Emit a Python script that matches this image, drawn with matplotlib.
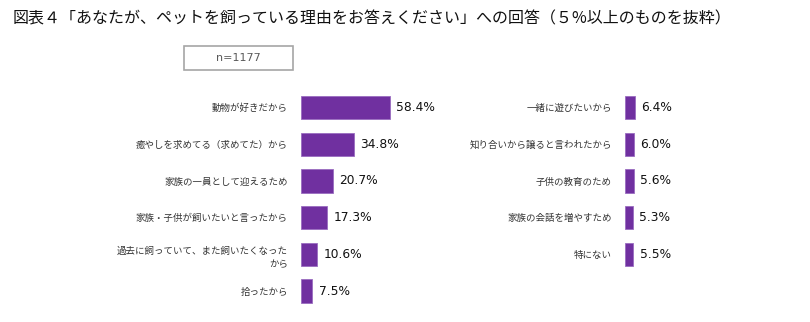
import matplotlib
matplotlib.use("Agg")
import matplotlib.pyplot as plt
from matplotlib.patches import Rectangle

plt.rcParams['font.family'] = ['Noto Sans CJK JP', 'DejaVu Sans']

# data
title = "図表４「あなたが、ペットを飼っている理由をお答えください」への回答（５%以上のものを抜粋）"
n_label = "n=1177"

left_labels = ["動物が好きだから", "癒やしを求めてる（求めてた）から", "家族の一員として迎えるため",
               "家族・子供が飼いたいと言ったから", "過去に飼っていて、また飼いたくなった\nから", "拾ったから"]
left_values = [58.4, 34.8, 20.7, 17.3, 10.6, 7.5]

right_labels = ["一緒に遊びたいから", "知り合いから譲ると言われたから", "子供の教育のため",
                "家族の会話を増やすため", "特にない"]
right_values = [6.4, 6.0, 5.6, 5.3, 5.5]

W, H = 810, 322
bar_color = '#7030A0'

fig = plt.figure(figsize=(W / 100, H / 100), dpi=100)

fig.text(13 / W, 1 - 19 / H, title, fontsize=11.5, va='center', ha='left', color='#111111')

# n box
fig.patches.append(Rectangle((184 / W, 1 - 70 / H), 109 / W, 24 / H, transform=fig.transFigure,
                             facecolor='white', edgecolor='#a6a6a6', lw=1.2))
fig.text(238.5 / W, 1 - 58 / H, n_label, fontsize=8, ha='center', va='center',
         color='#595959', family=['DejaVu Sans'])

top, bottom = 89.2, 309.4
def make_ax(x0, labels, values):
    ax = fig.add_axes([x0 / W, 1 - bottom / H, 153 / W, (bottom - top) / H])
    pos = list(range(len(labels)))
    ax.barh(pos, values, height=0.63, color=bar_color, edgecolor='#9a6cc0', lw=0.6)
    ax.set_xlim(0, 100)
    ax.set_ylim(5.5, -0.5)
    ax.set_yticks(pos)
    ax.set_yticklabels(labels, fontsize=6.8, color='#333333', multialignment='right',
                       linespacing=1.6)
    ax.tick_params(axis='y', length=0, pad=9.4)
    ax.set_xticks([])
    for s in ax.spines.values():
        s.set_visible(False)
    for p, v in zip(pos, values):
        ax.text(v + 4, p, f"{v:.1f}%", va='center', ha='left', fontsize=8.8,
                color='#111111', family=['DejaVu Sans'])
    return ax

make_ax(301, left_labels, left_values)
make_ax(625, right_labels, right_values)

fig.savefig('out.png', dpi=100)
